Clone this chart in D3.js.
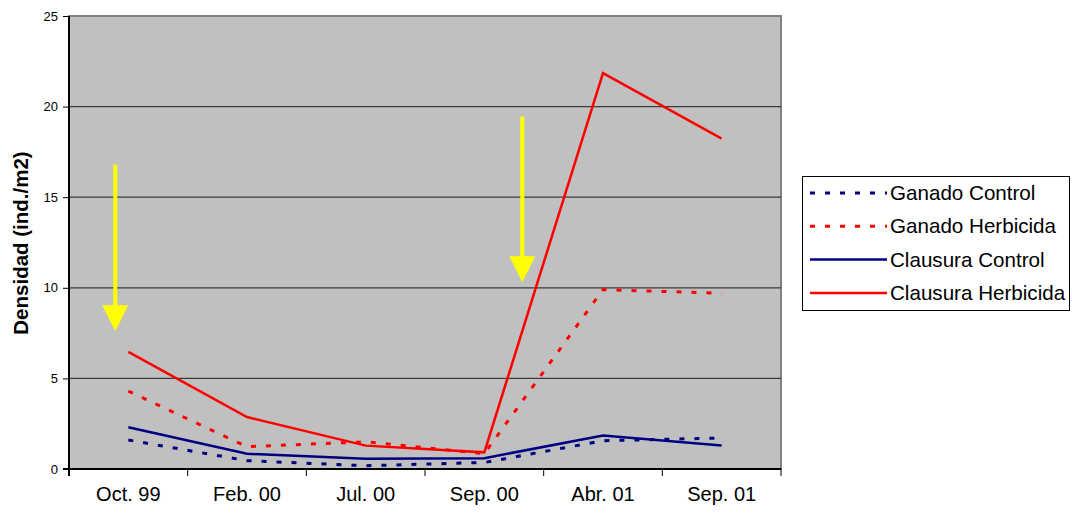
<!DOCTYPE html>
<html>
<head>
<meta charset="utf-8">
<script src="https://cdn.jsdelivr.net/npm/d3@7"></script>
<style>
html,body{margin:0;padding:0;background:#fff;}
svg{display:block;font-family:"Liberation Sans",Arial,sans-serif;}
</style>
</head>
<body>
<svg id="chart" width="1072" height="515"></svg>
<script>
const categories = ["Oct. 99","Feb. 00","Jul. 00","Sep. 00","Abr. 01","Sep. 01"];
const ganadoControl     = [1.6, 0.46, 0.18, 0.36, 1.56, 1.71];
const ganadoHerbicida   = [4.3, 1.23, 1.5, 0.85, 9.9, 9.7];
const clausuraControl   = [2.3, 0.84, 0.57, 0.6, 1.85, 1.3];
const clausuraHerbicida = [6.46, 2.87, 1.29, 0.92, 21.85, 18.23];
const yTicks = [0,5,10,15,20,25];
// annotation arrows: category-index position, start value, tip value
const arrowX     = [-0.11, 3.32];
const arrowTop   = [16.8, 19.45];
const arrowTip   = [7.6, 10.3];

const series = [
  {name:"Ganado Control", values:ganadoControl, color:"#000080", dash:"5,10"},
  {name:"Ganado Herbicida", values:ganadoHerbicida, color:"#ff0000", dash:"5,10"},
  {name:"Clausura Control", values:clausuraControl, color:"#000080", dash:null},
  {name:"Clausura Herbicida", values:clausuraHerbicida, color:"#ff0000", dash:null}
];

const L=69, R=781, T=16, B=469;
const svg = d3.select("#chart");
const band = d3.scaleBand().domain(categories).range([L,R]);
const xi = d3.scaleLinear().domain([-0.5, categories.length-0.5]).range([L,R]);
const y = d3.scaleLinear().domain([0,25]).range([B,T]);

// plot background
svg.append("rect").attr("x",L).attr("y",T).attr("width",R-L).attr("height",B-T)
  .attr("fill","#c0c0c0").attr("stroke","#808080").attr("stroke-width",2);

// gridlines
svg.append("g").selectAll("line").data(yTicks.filter(t=>t>0 && t<25)).join("line")
  .attr("x1",L).attr("x2",R).attr("y1",d=>y(d)).attr("y2",d=>y(d))
  .attr("stroke","#3a3a3a").attr("stroke-width",1.3);

// y axis
const yAxis = svg.append("g").attr("transform",`translate(${L},0)`)
  .call(d3.axisLeft(y).tickValues(yTicks).tickSize(6).tickPadding(5));
yAxis.select(".domain").attr("stroke","#000").attr("stroke-width",2).attr("d",`M0,${T}V${B+7}`);
yAxis.selectAll(".tick line").attr("stroke","#000");
yAxis.selectAll(".tick text").attr("font-size",13).attr("fill","#000")
  .attr("font-family","Liberation Sans, Arial, sans-serif");

// x axis
const xAxis = svg.append("g").attr("transform",`translate(0,${B})`)
  .call(d3.axisBottom(band).tickSize(0).tickPadding(18));
xAxis.select(".domain").attr("stroke","#000").attr("stroke-width",2).attr("d",`M${L-6},0H${R}`);
xAxis.selectAll(".tick text").attr("font-size",20).attr("fill","#000")
  .attr("font-family","Liberation Sans, Arial, sans-serif");
// boundary ticks
const bounds = categories.map(c=>band(c)).concat([band(categories[categories.length-1])+band.bandwidth()]);
svg.append("g").selectAll("line").data(bounds).join("line")
  .attr("x1",d=>d).attr("x2",d=>d).attr("y1",B).attr("y2",B+7)
  .attr("stroke","#000").attr("stroke-width",1);

// y title
svg.append("text").attr("transform",`translate(28,243) rotate(-90)`)
  .attr("text-anchor","middle").attr("font-size",20.5).attr("font-weight","bold")
  .text("Densidad (ind./m2)");

// lines
const line = d3.line().x((d,i)=>xi(i)).y(d=>y(d));
svg.append("g").selectAll("path").data(series).join("path")
  .attr("d",d=>line(d.values)).attr("fill","none")
  .attr("stroke",d=>d.color).attr("stroke-width",d=>d.dash?3:2.5)
  .attr("stroke-dasharray",d=>d.dash);

// arrows
const arrows = arrowX.map((a,i)=>({x:a, top:arrowTop[i], tip:arrowTip[i]}));
const ag = svg.append("g");
arrows.forEach(a=>{
  const px = xi(a.x), y0 = y(a.top), y1 = y(a.tip);
  const headH = 26, headW = 13;
  ag.append("line").attr("x1",px).attr("x2",px).attr("y1",y0).attr("y2",y1-headH+1)
    .attr("stroke","#ffff00").attr("stroke-width",4);
  ag.append("path").attr("d",`M${px-headW},${y1-headH}L${px+headW},${y1-headH}L${px},${y1}Z`)
    .attr("fill","#ffff00");
});

// legend
const lg = svg.append("g");
lg.append("rect").attr("x",802.5).attr("y",176.5).attr("width",267).attr("height",134)
  .attr("fill","#fff").attr("stroke","#000").attr("stroke-width",1);
series.forEach((s,i)=>{
  const cy = 193 + i*33.3;
  lg.append("line").attr("x1",810).attr("x2",887).attr("y1",cy).attr("y2",cy)
    .attr("stroke",s.color).attr("stroke-width",s.dash?3:2.5).attr("stroke-dasharray",s.dash);
  lg.append("text").attr("x",890).attr("y",cy+7).attr("font-size",20.6).text(s.name);
});
</script>
</body>
</html>
